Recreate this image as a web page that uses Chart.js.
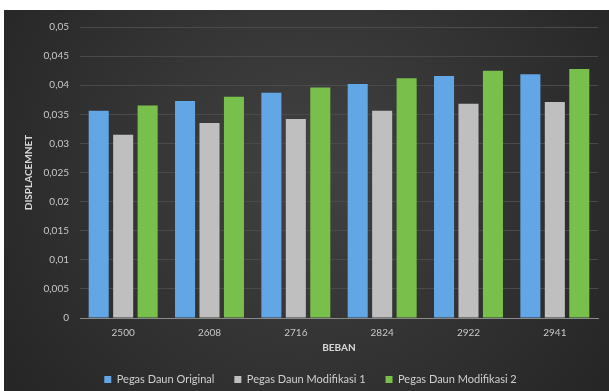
<!DOCTYPE html>
<html>
<head>
<meta charset="utf-8">
<script src="https://cdn.jsdelivr.net/npm/chart.js@4.4.0/dist/chart.umd.min.js"></script>
<style>
  html, body { margin: 0; background: #fff; overflow: hidden; }
  #wrap { position: absolute; left: 4px; top: 10px; width: 605px; height: 400px; }
</style>
</head>
<body>
<div id="wrap"><canvas id="canvas"></canvas></div>
<script>
var labels = ['2500', '2608', '2716', '2824', '2922', '2941'];
var original = [0.0356, 0.0373, 0.0387, 0.0402, 0.0416, 0.0419];
var modifikasi1 = [0.0315, 0.0335, 0.0342, 0.0356, 0.0368, 0.0371];
var modifikasi2 = [0.0365, 0.0380, 0.0396, 0.0412, 0.0425, 0.0428];

Chart.defaults.font.family = 'Lato, "Open Sans", sans-serif';

// dark gradient backdrop like the Excel chart
var backdrop = {
    id: 'backdrop',
    beforeDraw: function(chart) {
        var c = chart.ctx, w = chart.width, h = chart.height;
        var g = c.createRadialGradient(w * 0.5, h * 0.4, 10, w * 0.5, h * 0.4, w * 0.6);
        g.addColorStop(0, '#414141');
        g.addColorStop(1, '#262626');
        c.save();
        c.fillStyle = g;
        c.fillRect(0, 0, w, h);
        c.restore();
    }
};

function fmt(v) {
    return String(Math.round(v * 1000) / 1000).replace('.', ',');
}

var ctx = document.getElementById('canvas').getContext('2d');
var myChart = new Chart(ctx, {
    type: 'bar',
    data: {
        labels: labels,
        datasets: [{
            label: 'Pegas Daun Original',
            data: original,
            backgroundColor: '#62a6e6'
        },
        {
            label: 'Pegas Daun Modifikasi 1',
            data: modifikasi1,
            backgroundColor: '#bfbfbf'
        },
        {
            label: 'Pegas Daun Modifikasi 2',
            data: modifikasi2,
            backgroundColor: '#79bf4b'
        }]
    },
    plugins: [backdrop],
    options: {
        responsive: true,
        maintainAspectRatio: false,
        animation: false,
        datasets: {
            bar: { categoryPercentage: 0.85, barPercentage: 0.82 }
        },
        layout: {
            padding: { top: 5, right: 11, left: 19, bottom: 15 }
        },
        plugins: {
            tooltip: { enabled: false },
            legend: {
                position: 'bottom',
                labels: {
                    color: '#d0d0d0',
                    boxWidth: 7,
                    boxHeight: 7,
                    padding: 20,
                    font: { size: 11 }
                }
            }
        },
        scales: {
            x: {
                grid: { display: false, drawTicks: false },
                border: { color: '#8a8a8a', width: 1 },
                ticks: { color: '#c8c8c8', font: { size: 10 }, padding: 9 },
                title: {
                    display: true,
                    text: 'BEBAN',
                    color: '#d8d8d8',
                    font: { size: 10, weight: 'bold' },
                    padding: { top: 2, bottom: 0 }
                },
                afterFit: function(s) { s.height = 36; }
            },
            y: {
                min: 0,
                max: 0.05,
                grid: { color: '#4a4a4a', drawTicks: false },
                border: { display: false },
                ticks: {
                    stepSize: 0.005,
                    color: '#c8c8c8',
                    font: { size: 10 },
                    padding: 11,
                    callback: function(v) { return fmt(v); }
                },
                title: {
                    display: true,
                    text: 'DISPLACEMNET',
                    color: '#d8d8d8',
                    font: { size: 10, weight: 'bold' },
                    padding: { top: 0, bottom: 4 }
                },
                afterFit: function(s) { s.width = 57; }
            }
        }
    }
});
</script>
</body>
</html>
